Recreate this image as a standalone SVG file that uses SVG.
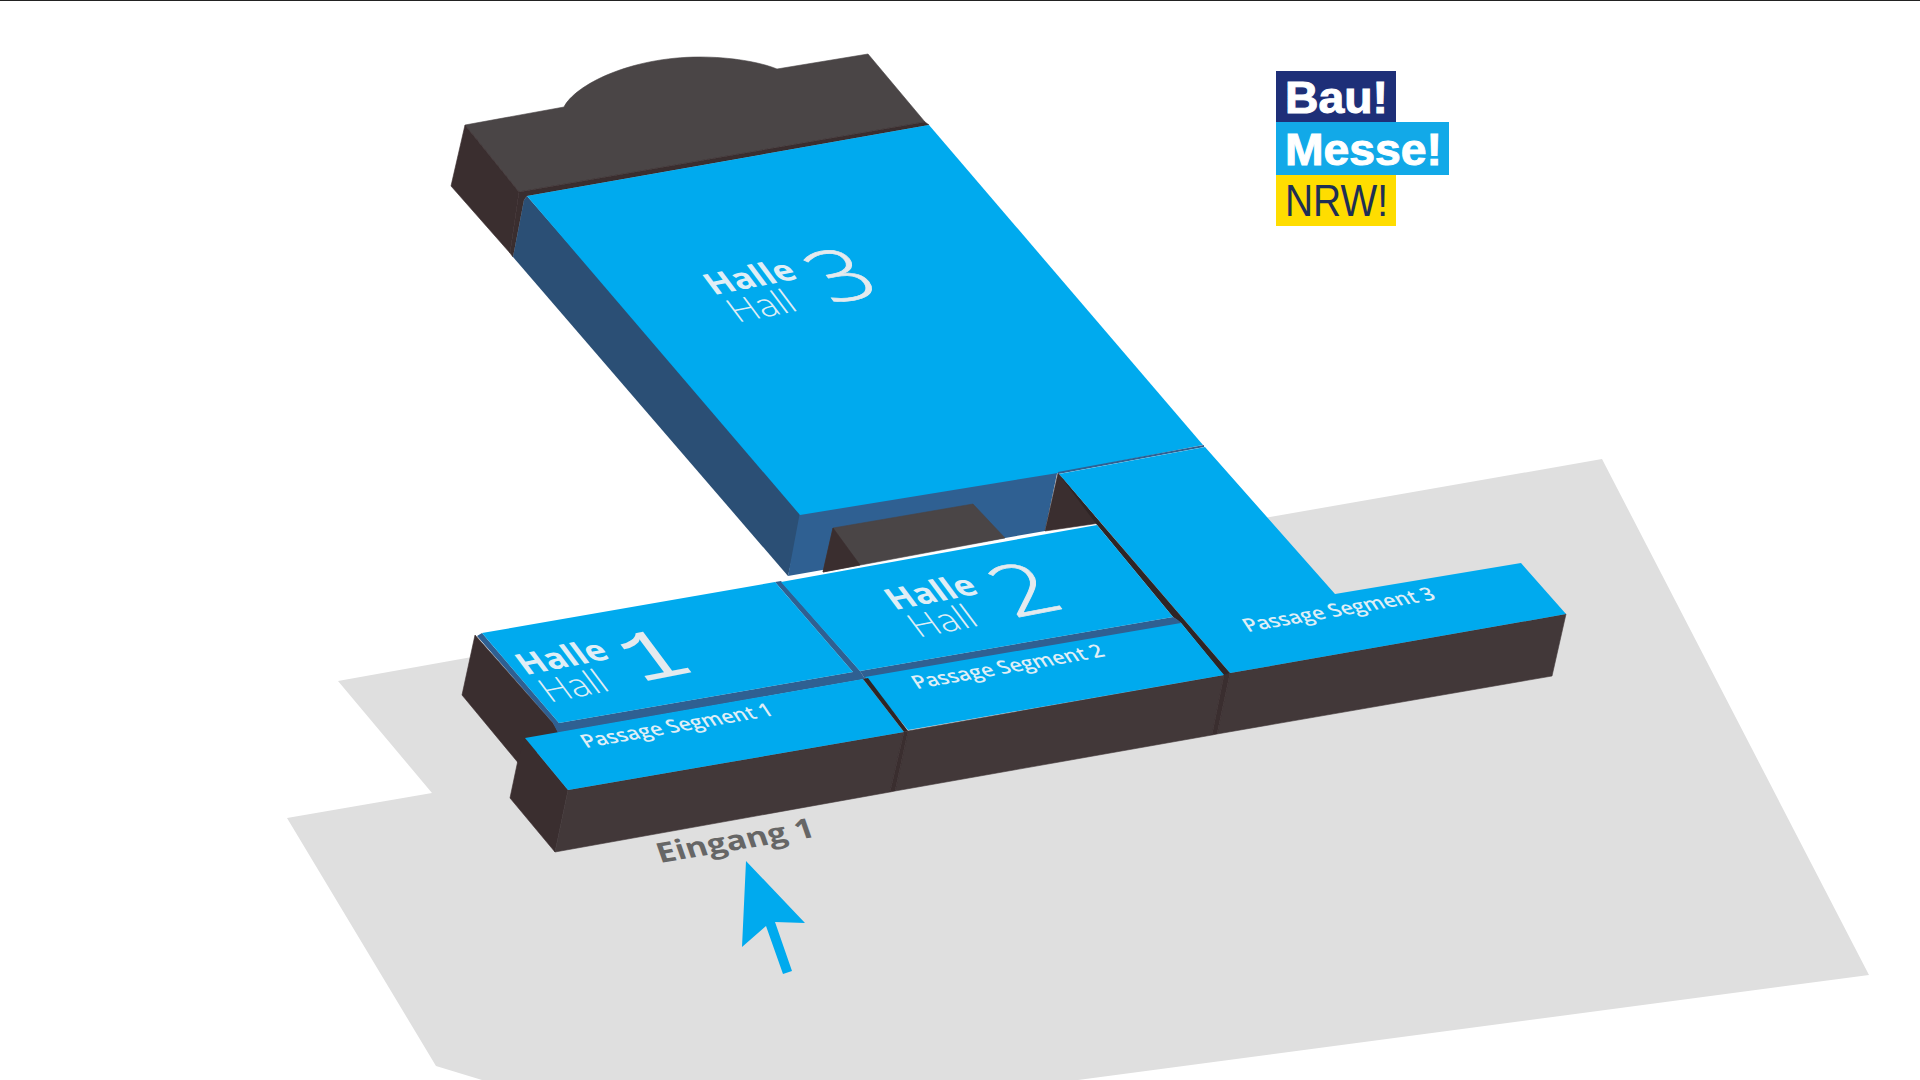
<svg xmlns="http://www.w3.org/2000/svg" width="1920" height="1080" viewBox="0 0 1920 1080">
<style>
.blue{fill:#00aaee}.top{fill:#4a4546;stroke:#4a4546;stroke-width:.6}.side{fill:#3a2e2f;stroke:#3a2e2f;stroke-width:.6}.front{fill:#423839;stroke:#423839;stroke-width:.6}.gap{fill:#2e2526}.bl{fill:#2b4f75}.bf{fill:#2f6092}
text{font-family:"Open Sans","Noto Sans",sans-serif;fill:#dfeef6}
.h{font-weight:700;font-size:34px}.l{font-weight:300;font-size:37px}
.d{font-family:"Open Sans",sans-serif;font-weight:300;font-size:76px;fill:#e4eaee;stroke:#e4eaee;stroke-width:.7}
.p{font-weight:600;font-size:21px}
.lg{font-family:"Liberation Sans",Arial,sans-serif;font-weight:700;font-size:45px;fill:#fff;stroke:#fff;stroke-width:1}
</style>
<rect width="1920" height="1080" fill="#fff"/>
<rect width="1920" height="1" fill="#222"/>
<g id="ground"><path fill="#dfdfdf" d="M1602,459L1869,975L1078,1080H482L436,1066L287,818L432,793L338,681L500,652L1270,517Z"/></g>
<g id="hall3">
<path class="top" d="M465,125L564,107C575,85 630,57 700,57C730,57 760,62 777,69L868,54L925,122L519,192Z"/>
<path class="side" d="M465,125L451,186L510,253L519,192Z"/>
<path class="side" d="M519,192L925,122L929,125L527,196L524,200L513,257L510,253Z"/>
<path class="bl" d="M524,200L527,196L803,512L788,576L513,257Z"/>
<path class="bf" d="M800,512L1058,469L1045,531L788,576Z"/>
<path class="top" d="M833,528L973,504L1005,538L823,572Z"/>
<path class="side" d="M833,528L860,565L823,572Z"/>
<path class="side" d="M1058,473L1100,523L1045,531Z"/>
<path class="blue" d="M527,196L929,125L1203,445L1058,473L800,515Z"/>
<path fill="none" stroke="#2f6092" stroke-width="2" d="M1058,473L1204,446"/>
<g transform="matrix(.98,-.19,.6,.8,714,295)"><text class="h">Halle</text><text class="l" x="3" y="35">Hall</text></g>
<text class="d" transform="matrix(1.25,-.24,.65,.87,831,304)">3</text>
</g>
<g id="passage3">
<path class="front" d="M1230,673L1566,614L1552,676L1217,734Z"/>
<path class="blue" d="M1059,474L1205,447L1335,594L1521,563L1566,614L1230,673Z"/>
<path class="gap" d="M1058,473L1230,673L1225,677L1181,623L1173,617L1097,525Z"/>
<text class="p" transform="matrix(.98,-.17,.55,.83,1248,632)">Passage Segment 3</text>
</g>
<g id="hall1">
<path class="side" d="M475,635L462,695L520,765L560,735L553,723Z"/>
<path class="bf" d="M477,636L482,633L559,723L853,672L775,582L781,581L860,671L865,679L558,733L553,723Z"/>
<path class="blue" d="M482,633L775,582L853,672L559,723Z"/>
<g transform="matrix(.98,-.19,.6,.8,526,675)"><text class="h">Halle</text><text class="l" x="3" y="35">Hall</text></g>
<text class="d" style="font-family:'Liberation Mono',monospace;font-weight:400;stroke:none" transform="matrix(1.2,-.23,.65,.87,641,682)">1</text>
</g>
<g id="hall2">
<path class="bf" d="M860,671L1173,617L1178,620L1182,624L865,679Z"/>
<path class="blue" d="M781,582L1097,525L1173,617L860,671Z"/>
<g transform="matrix(.98,-.19,.6,.8,895,610)"><text class="h">Halle</text><text class="l" x="3" y="35">Hall</text></g>
<text class="d" transform="matrix(1.25,-.24,.65,.87,1014,618)">2</text>
</g>
<g id="passage2">
<path class="front" d="M908,731L1224,675L1212,735L895,791Z"/>
<path class="side" d="M1224,675L1230,673L1217,734L1212,735Z"/>
<path class="blue" d="M865,677L1181,623L1224,675L908,730Z"/>
<text class="p" transform="matrix(.98,-.17,.55,.83,917,689)">Passage Segment 2</text>
</g>
<g id="passage1">
<path class="side" d="M525,738L568,790L555,852L510,798L518,760Z"/>
<path class="front" d="M568,790L904,732L890,792L555,852Z"/>
<path class="side" d="M904,732L908,731L895,791L890,792Z"/>
<path class="blue" d="M525,738L863,679L904,732L568,790Z"/>
<path class="gap" d="M863,679L868,678L908,731L904,732Z"/>
<text class="p" transform="matrix(.98,-.17,.55,.83,586,748)">Passage Segment 1</text>
</g>
<g id="entrance">
<text transform="matrix(1.18,-.2,.33,.95,660,863)" style="font-weight:700;font-size:28px;fill:#666">Eingang 1</text>
<path fill="#00aaee" d="M746,861L805,923L775,922L792,971L783,974L766,926L742,947Z"/>
</g>
<g id="logo">
<rect x="1276" y="71" width="120" height="51" fill="#1e2f78"/>
<rect x="1276" y="122" width="173" height="53" fill="#12a9e8"/>
<rect x="1276" y="175" width="120" height="51" fill="#ffdd00"/>
<text class="lg" x="1285" y="113" textLength="103" lengthAdjust="spacingAndGlyphs">Bau!</text>
<text class="lg" x="1285" y="165" textLength="157" lengthAdjust="spacingAndGlyphs">Messe!</text>
<text class="lg" x="1285" y="216" textLength="103" lengthAdjust="spacingAndGlyphs" style="font-weight:400;stroke:none;fill:#1e2f55">NRW!</text>
</g>
</svg>
